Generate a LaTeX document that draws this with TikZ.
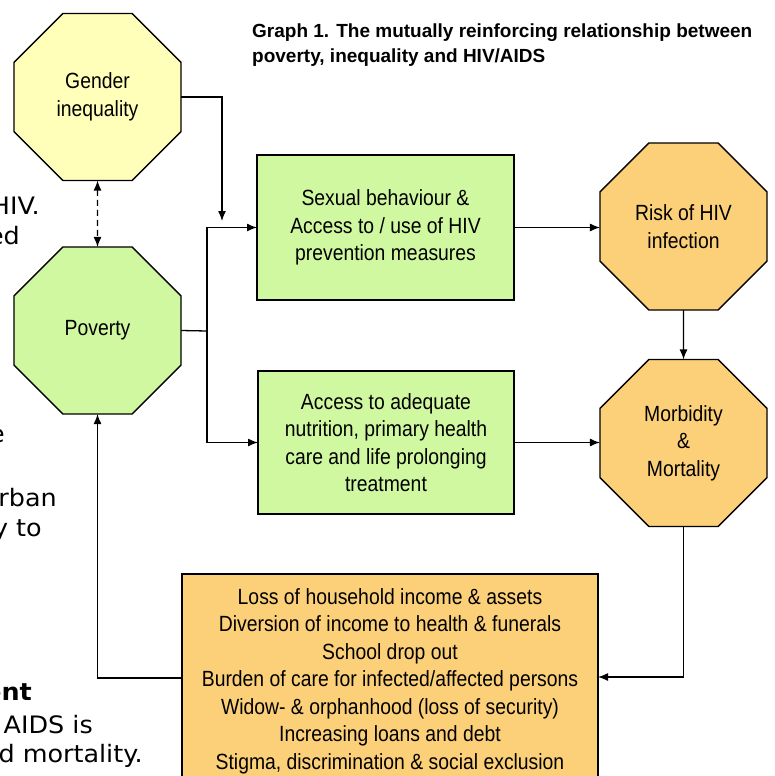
\documentclass[tikz,border=0pt]{standalone}
\usepackage{fontspec}
\setmainfont{Liberation Sans}
\newfontfamily\narrowfont[FakeStretch=0.88]{Liberation Sans}
\newfontfamily\pagefont[FakeStretch=1.06]{DejaVu Sans}
\usetikzlibrary{arrows.meta,shapes.geometric,positioning}

\definecolor{yellowfill}{RGB}{255,255,185}
\definecolor{greenfill}{RGB}{208,248,160}
\definecolor{orangefill}{RGB}{252,208,120}

\tikzset{
  octa/.style={draw, line width=1.4pt, regular polygon, regular polygon sides=8,
    minimum size=180.8pt, inner sep=0pt, outer sep=0pt, align=center,
    font=\narrowfont\fontsize{22}{27.5}\selectfont},
  factor/.style={draw, line width=1.4pt, rectangle, inner sep=0pt, outer sep=0pt,
    align=center, font=\narrowfont\fontsize{22}{27.5}\selectfont},
  frag/.style={anchor=base east, inner sep=0pt, font=\pagefont\fontsize{24}{30}\selectfont},
  link/.style={line width=1.3pt, -{Latex[length=10pt,width=8pt]}},
}

\begin{document}
\begin{tikzpicture}[x=1pt,y=-1pt]
        \useasboundingbox (0,0) rectangle (775,776);
        \clip (0,0) rectangle (775,776);
        % page text cut off on the left
        \node[frag] (hiv) at (40,214) {HIV.};
        \node[frag] (ed) at (20,244) {ed};
        \node[frag] (e) at (5,442) {e};
        \node[frag] (rban) at (57,506) {rban};
        \node[frag] (yto) at (42,536) {y to};
        \node[frag, font=\pagefont\bfseries\fontsize{24}{30}\selectfont] (ent) at (32,700) {ent};
        \node[frag] (aids) at (93,733) {AIDS is};
        \node[frag] (mort) at (143,762) {d mortality.};
        % title
        \node[anchor=base west, align=left, inner sep=0pt, font=\bfseries\fontsize{19}{25}\selectfont] (title) at (252,63) {Graph 1. The mutually reinforcing relationship between\\poverty, inequality and HIV/AIDS};
        % octagons
        \node[octa, fill=yellowfill] (gender) at (97.5,97) {Gender\\inequality};
        \node[octa, fill=greenfill] (poverty) at (97.5,330.5) {Poverty};
        \node[octa, fill=orangefill] (risk) at (683.5,226.5) {Risk of HIV\\infection};
        \node[octa, fill=orangefill] (morb) at (683.5,443) {Morbidity\\\&\\Mortality};
        % boxes
        \node[factor, fill=greenfill, minimum width=257pt, minimum height=145pt] (sexual) at (385.5,227.5) {Sexual behaviour \&\\Access to / use of HIV\\prevention measures};
        \node[factor, fill=greenfill, minimum width=256pt, minimum height=143pt] (care) at (386,442.5) {Access to adequate\\nutrition, primary health\\care and life prolonging\\treatment};
        \node[factor, fill=orangefill, minimum width=416pt, minimum height=214pt] (impact) at (390,681) {Loss of household income \& assets\\Diversion of income to health \& funerals\\School drop out\\Burden of care for infected/affected persons\\Widow- \& orphanhood (loss of security)\\Increasing loans and debt\\Stigma, discrimination \& social exclusion};
        % connectors
        \coordinate (split) at (207,331);
        \coordinate (gendertip) at (222,221);
        \draw[link, {Latex[length=10pt,width=8pt]}-{Latex[length=10pt,width=8pt]}, dash pattern=on 6pt off 4pt] (gender) -- (poverty);
        \draw[link] (gender.east) -| (gendertip);
        \draw[line width=1.3pt] (poverty.east) -- (split);
        \draw[link] (split) |- (sexual.west);
        \draw[link] (split) |- (care.west);
        \draw[link] (sexual.east) -- (sexual.east -| risk.west);
        \draw[link] (risk) -- (morb);
        \draw[link] (care.east) -- (care.east -| morb.west);
        \draw[link] (morb.south) |- ([yshift=4pt]impact.east);
        \draw[link] ([yshift=3pt]impact.west) -| (poverty.south);
    \end{tikzpicture}
\end{document}
